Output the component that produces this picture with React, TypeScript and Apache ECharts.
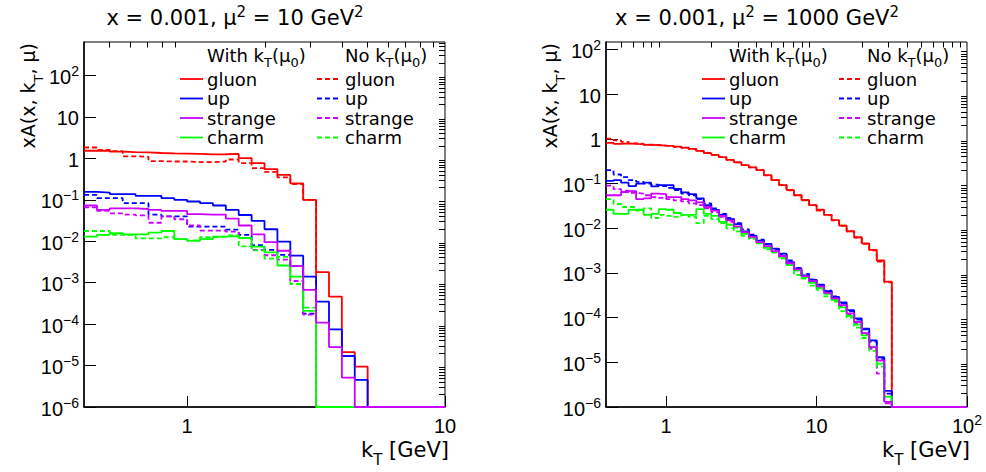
import { useEffect, useRef } from 'react';
import * as echarts from 'echarts';

const FONT = '"Liberation Sans", Arial, Helvetica, sans-serif';
const FONT_W = '"DejaVu Sans", "Liberation Sans", sans-serif';

// ---- histogram binning: log-uniform, 0.05 per bin in log10(kT), first edge 10^-0.4 ----
const FIRST_EDGE_LOG10 = -0.4;
const BIN_LOG10 = 0.05;

// ---- axis ranges ----
const X_MIN = 0.398;
const X_MAX_LEFT = 10;
const X_MAX_RIGHT = 100;
const Y_MIN = 1e-6;
const Y_MAX_LEFT = 644;
const Y_MAX_RIGHT = 148;

// ---- tick values ----
const xMajorLeft = [1, 10];
const xMajorRight = [1, 10, 100];
const xMinorLeft = [0.5, 0.6, 0.7, 0.8, 0.9, 2, 3, 4, 5, 6, 7, 8, 9];
const xMinorRight = [0.5, 0.6, 0.7, 0.8, 0.9, 2, 3, 4, 5, 6, 7, 8, 9, 20, 30, 40, 50, 60, 70, 80, 90];
const yMajor = [1e-6, 1e-5, 1e-4, 1e-3, 1e-2, 1e-1, 1, 10, 100];
const yMinorDigits = [2, 3, 4, 5, 6, 7, 8, 9];

// ---- texts ----
const titleLeft = '{t|x = 0.001, μ}{p|2}{t| = 10 GeV}{p|2}';
const titleRight = '{t|x = 0.001, μ}{p|2}{t| = 1000 GeV}{p|2}';
const yTitle = '{n|xA(x, k}{b|T}{n|, μ)}';
const xTitle = '{n|k}{b|T}{n| [GeV]}';
const legendHeadWith = '{n|With k}{b|T}{n|(μ}{b|0}{n|)}';
const legendHeadNo = '{n|No k}{b|T}{n|(μ}{b|0}{n|)}';
const legendNames = ['gluon', 'up', 'strange', 'charm'];
const colors = ['#ff0000', '#0000ff', '#cc00ff', '#00ff00'];
// drawing order (z) of solid lines: strange drawn last, as in the reference
const solidZ = [3, 4, 6, 5];

// ---- left panel: x = 0.001, mu^2 = 10 GeV^2 (28 bins, 0.398 .. 10) ----
const gluonWithL = [1.53, 1.53, 1.45, 1.42, 1.40, 1.35, 1.32, 1.30, 1.28, 1.25, 1.26, 1.28, 1.02, 0.77, 0.55, 0.40, 0.25, 0.10, 1.8e-3, 4.6e-4, 2.1e-5, 9.4e-6, 0, 0, 0, 0, 0, 0];
const gluonNoL = [1.83, 1.61, 1.50, 1.12, 1.10, 0.86, 0.84, 0.84, 0.81, 0.81, 0.84, 0.94, 0.77, 0.58, 0.47, 0.35, 0.24, 0.10, 0, 0, 0, 0, 0, 0, 0, 0, 0, 0];
const upWithL = [0.155, 0.150, 0.137, 0.137, 0.125, 0.125, 0.110, 0.100, 0.091, 0.083, 0.073, 0.057, 0.043, 0.031, 0.0195, 0.0098, 0.0045, 0.0014, 3.5e-4, 7.5e-5, 1.7e-5, 4.5e-6, 0, 0, 0, 0, 0, 0];
const upNoL = [0.131, 0.110, 0.110, 0.083, 0.083, 0.044, 0.040, 0.040, 0.0226, 0.0226, 0.0226, 0.019, 0.0143, 0.0081, 0.0062, 0.0047, 0.0025, 1.8e-4, 0, 0, 0, 0, 0, 0, 0, 0, 0, 0];
const strangeWithL = [0.073, 0.057, 0.062, 0.062, 0.060, 0.057, 0.054, 0.054, 0.045, 0.044, 0.044, 0.035, 0.024, 0.0147, 0.0095, 0.0059, 0.0025, 6.7e-4, 1.09e-4, 2.8e-5, 5.1e-6, 0, 0, 0, 0, 0, 0, 0];
const strangeNoL = [0.066, 0.054, 0.047, 0.044, 0.042, 0.028, 0.040, 0.034, 0.024, 0.018, 0.018, 0.017, 0.012, 0.0062, 0.0046, 0.0036, 0.0011, 1.7e-4, 0, 0, 0, 0, 0, 0, 0, 0, 0, 0];
const charmWithL = [0.013, 0.0143, 0.0158, 0.0147, 0.0147, 0.0162, 0.0177, 0.0112, 0.0102, 0.0112, 0.0129, 0.0133, 0.012, 0.0074, 0.0054, 0.0026, 0.0014, 2.1e-4, 0, 0, 0, 0, 0, 0, 0, 0, 0, 0];
const charmNoL = [0.0177, 0.0177, 0.0143, 0.0143, 0.0118, 0.0118, 0.0125, 0.0112, 0.0105, 0.0125, 0.0129, 0.0138, 0.0075, 0.006, 0.0038, 0.0042, 9.3e-4, 2.5e-4, 0, 0, 0, 0, 0, 0, 0, 0, 0, 0];

// ---- right panel: x = 0.001, mu^2 = 1000 GeV^2 (48 bins, 0.398 .. 100) ----
const gluonWithR = [0.82, 0.78, 0.80, 0.78, 0.77, 0.74, 0.73, 0.71, 0.70, 0.67, 0.64, 0.60, 0.54, 0.48, 0.44, 0.39, 0.34, 0.30, 0.26, 0.23, 0.20, 0.155, 0.12, 0.093, 0.072, 0.055, 0.043, 0.033, 0.026, 0.020, 0.0152, 0.0115, 0.0086, 0.0063, 0.0046, 0.0033, 0.0019, 6.4e-4, 0, 0, 0, 0, 0, 0, 0, 0, 0, 0];
const gluonNoR = [1.02, 0.93, 0.86, 0.80, 0.78, 0.75, 0.73, 0.71, 0.69, 0.66, 0.63, 0.59, 0.54, 0.49, 0.44, 0.39, 0.34, 0.30, 0.26, 0.23, 0.20, 0.153, 0.121, 0.094, 0.071, 0.055, 0.042, 0.033, 0.025, 0.020, 0.0150, 0.0114, 0.0085, 0.0062, 0.0045, 0.0032, 0.0018, 6.2e-4, 0, 0, 0, 0, 0, 0, 0, 0, 0, 0];
const upWithR = [0.115, 0.12, 0.105, 0.088, 0.10, 0.105, 0.087, 0.093, 0.092, 0.076, 0.064, 0.058, 0.047, 0.033, 0.0257, 0.020, 0.016, 0.0124, 0.0085, 0.0068, 0.0053, 0.0045, 0.0035, 0.0027, 0.00175, 0.00125, 8.8e-4, 7.0e-4, 5.5e-4, 3.9e-4, 2.9e-4, 2.2e-4, 1.47e-4, 9.6e-5, 5.7e-5, 3.1e-5, 1.3e-5, 2.3e-6, 0, 0, 0, 0, 0, 0, 0, 0, 0, 0];
const upNoR = [0.20, 0.16, 0.14, 0.12, 0.11, 0.10, 0.095, 0.088, 0.08, 0.072, 0.06, 0.055, 0.045, 0.036, 0.028, 0.021, 0.017, 0.013, 0.0095, 0.0072, 0.0056, 0.0044, 0.0034, 0.0026, 0.0019, 0.0013, 9.5e-4, 7.2e-4, 5.3e-4, 4.0e-4, 3.0e-4, 2.1e-4, 1.4e-4, 9.0e-5, 5.5e-5, 2.9e-5, 1.2e-5, 2.0e-6, 0, 0, 0, 0, 0, 0, 0, 0, 0, 0];
const strangeWithR = [0.055, 0.055, 0.065, 0.068, 0.045, 0.047, 0.06, 0.058, 0.05, 0.05, 0.045, 0.042, 0.038, 0.03, 0.025, 0.019, 0.015, 0.011, 0.0082, 0.0064, 0.0049, 0.0040, 0.0031, 0.0024, 0.00165, 0.0012, 8.5e-4, 6.6e-4, 5.0e-4, 3.6e-4, 2.7e-4, 1.9e-4, 1.25e-4, 8.0e-5, 4.5e-5, 2.2e-5, 1.1e-5, 1.3e-6, 0, 0, 0, 0, 0, 0, 0, 0, 0, 0];
const strangeNoR = [0.09, 0.075, 0.07, 0.062, 0.06, 0.055, 0.05, 0.048, 0.045, 0.042, 0.04, 0.036, 0.033, 0.028, 0.023, 0.018, 0.014, 0.0105, 0.008, 0.006, 0.0047, 0.0037, 0.0029, 0.0022, 0.0016, 0.00115, 8.2e-4, 6.3e-4, 4.8e-4, 3.5e-4, 2.6e-4, 1.8e-4, 1.2e-4, 7.5e-5, 4.2e-5, 2.0e-5, 5.6e-6, 1.2e-6, 0, 0, 0, 0, 0, 0, 0, 0, 0, 0];
const charmWithR = [0.026, 0.021, 0.021, 0.026, 0.026, 0.020, 0.021, 0.027, 0.026, 0.022, 0.020, 0.020, 0.027, 0.021, 0.019, 0.014, 0.012, 0.0105, 0.0075, 0.0062, 0.0048, 0.0037, 0.0030, 0.0023, 0.0015, 0.00115, 8.0e-4, 6.0e-4, 4.6e-4, 3.4e-4, 2.5e-4, 1.7e-4, 1.1e-4, 7.0e-5, 4.0e-5, 2.2e-5, 9.4e-6, 1.7e-6, 0, 0, 0, 0, 0, 0, 0, 0, 0, 0];
const charmNoR = [0.045, 0.035, 0.03, 0.03, 0.025, 0.028, 0.017, 0.02, 0.019, 0.018, 0.02, 0.018, 0.013, 0.019, 0.016, 0.013, 0.010, 0.0085, 0.0068, 0.0058, 0.0046, 0.0034, 0.0029, 0.0021, 0.0015, 9.0e-4, 7.5e-4, 5.2e-4, 4.2e-4, 3.0e-4, 2.3e-4, 1.4e-4, 1.0e-4, 6.0e-5, 3.5e-5, 1.8e-5, 8.0e-6, 1.3e-6, 0, 0, 0, 0, 0, 0, 0, 0, 0, 0];

function binEdges(nBins: number): number[] {
  const e: number[] = [];
  for (let i = 0; i <= nBins; i++) e.push(Math.pow(10, FIRST_EDGE_LOG10 + BIN_LOG10 * i));
  return e;
}

function stepData(vals: number[]): number[][] {
  const edges = binEdges(vals.length);
  const pts = vals.map((v, i) => [edges[i], Math.max(v, Y_MIN)]);
  pts.push([edges[vals.length], Math.max(vals[vals.length - 1], Y_MIN)]);
  return pts;
}

function yMinor(maxV: number): number[] {
  const out: number[] = [];
  for (let e = -6; e <= 2; e++) {
    for (const d of yMinorDigits) {
      const v = Number((d * Math.pow(10, e)).toPrecision(3));
      if (v <= maxV) out.push(v);
    }
  }
  return out;
}

function expLabel(v: number): string {
  const e = Math.round(Math.log10(v));
  if (e === 0) return '{b|1}';
  if (e === 1) return '{b|10}';
  return `{b|10}{s|${e < 0 ? '−' + -e : e}}`;
}

const labelRich = {
  b: { fontSize: 20, lineHeight: 23, verticalAlign: 'bottom', color: '#000', fontFamily: FONT },
  s: { fontSize: 14, lineHeight: 14, verticalAlign: 'top', color: '#000', fontFamily: FONT },
};

function xAxes(grid: number, max: number, majors: number[], minors: number[]) {
  return [
    {
      type: 'log', logBase: 10, gridIndex: grid, min: X_MIN, max,
      axisLine: { show: true, lineStyle: { color: '#000', width: 1.5 } },
      axisTick: { show: true, inside: true, length: 11, customValues: majors, lineStyle: { color: '#000', width: 1 } },
      axisLabel: { show: true, customValues: majors, formatter: expLabel, margin: 6, rich: labelRich },
      splitLine: { show: false },
    },
    {
      type: 'log', logBase: 10, gridIndex: grid, min: X_MIN, max,
      axisLine: { show: false },
      axisTick: { show: true, inside: true, length: 5.5, customValues: minors, lineStyle: { color: '#000', width: 1 } },
      axisLabel: { show: false },
      splitLine: { show: false },
    },
  ];
}

function yAxes(grid: number, max: number) {
  const majors = yMajor.filter((v) => v <= max);
  return [
    {
      type: 'log', logBase: 10, gridIndex: grid, min: Y_MIN, max,
      axisLine: { show: true, lineStyle: { color: '#000', width: 1.5 } },
      axisTick: { show: true, inside: true, length: 12, customValues: majors, lineStyle: { color: '#000', width: 1 } },
      axisLabel: { show: true, customValues: majors, formatter: expLabel, margin: 5, rich: labelRich },
      splitLine: { show: false },
    },
    {
      type: 'log', logBase: 10, gridIndex: grid, min: Y_MIN, max,
      axisLine: { show: false },
      axisTick: { show: true, inside: true, length: 6, customValues: yMinor(max), lineStyle: { color: '#000', width: 1 } },
      axisLabel: { show: false },
      splitLine: { show: false },
    },
  ];
}

function histSeries(name: string, vals: number[], color: string, dashed: boolean, axisIdx: number, z: number) {
  return {
    type: 'line', name, step: 'end', data: stepData(vals), xAxisIndex: axisIdx, yAxisIndex: axisIdx,
    showSymbol: false, symbol: 'none', silent: true, clip: true, z,
    lineStyle: { color, width: 1.8, type: dashed ? [5, 3] : 'solid' },
  };
}

// rich styles: n = normal, b = subscript (pushed to the bottom of a taller line), t/p = title + superscript
function richSet(size: number, subSize: number, lh: number) {
  return {
    n: { fontSize: size, lineHeight: lh, verticalAlign: 'top', fill: '#000', fontFamily: FONT_W },
    b: { fontSize: subSize, lineHeight: lh, verticalAlign: 'bottom', fill: '#000', fontFamily: FONT_W },
    t: { fontSize: 21, lineHeight: 24, verticalAlign: 'bottom', fill: '#000', fontFamily: FONT_W },
    p: { fontSize: 15, lineHeight: 15, verticalAlign: 'top', fill: '#000', fontFamily: FONT_W },
  };
}

function txt(text: string, x: number, y: number, align: string, size: number, lhf = 1.35, extra: any = {}) {
  return {
    type: 'text', x, y, z: 100, ...extra,
    style: {
      text, align, textAlign: align, verticalAlign: 'middle', textVerticalAlign: 'middle',
      fill: '#000', fontFamily: FONT_W, fontSize: size,
      rich: richSet(size, Math.round(size * 0.7), Math.round(size * lhf)),
    },
  };
}

function legendGraphics(dx: number) {
  const els: any[] = [];
  const rowY = [79, 98.5, 118, 137.5];
  const LS = 18;
  const hl = 1.28;
  const hoff = (Math.round(LS * hl) - LS) / 2;
  els.push(txt(legendHeadWith, 207 + dx, 55 + hoff, 'left', LS, hl));
  els.push(txt(legendHeadNo, 345 + dx, 55 + hoff, 'left', LS, hl));
  legendNames.forEach((nm, i) => {
    els.push({ type: 'line', z: 100, shape: { x1: 180 + dx, y1: rowY[i], x2: 203 + dx, y2: rowY[i] }, style: { stroke: colors[i], lineWidth: 1.8 } });
    els.push({ type: 'line', z: 100, shape: { x1: 317 + dx, y1: rowY[i], x2: 341 + dx, y2: rowY[i] }, style: { stroke: colors[i], lineWidth: 1.8, lineDash: [5, 3] } });
    els.push(txt('{n|' + nm + '}', 207 + dx, rowY[i], 'left', LS, 1));
    els.push(txt('{n|' + nm + '}', 345 + dx, rowY[i], 'left', LS, 1));
  });
  return els;
}

export default function App() {
  const ref = useRef<HTMLDivElement>(null);
  useEffect(() => {
    if (!ref.current) return;
    const chart = echarts.init(ref.current, undefined, { renderer: 'svg' });
    const setsL = [[gluonWithL, gluonNoL], [upWithL, upNoL], [strangeWithL, strangeNoL], [charmWithL, charmNoL]];
    const setsR = [[gluonWithR, gluonNoR], [upWithR, upNoR], [strangeWithR, strangeNoR], [charmWithR, charmNoR]];
    const series: any[] = [];
    setsL.forEach((s, i) => {
      series.push(histSeries(legendNames[i] + ' with (10)', s[0], colors[i], false, 0, solidZ[i]));
      series.push(histSeries(legendNames[i] + ' no (10)', s[1], colors[i], true, 0, 2));
    });
    setsR.forEach((s, i) => {
      series.push(histSeries(legendNames[i] + ' with (1000)', s[0], colors[i], false, 2, solidZ[i]));
      series.push(histSeries(legendNames[i] + ' no (1000)', s[1], colors[i], true, 2, 2));
    });
    const yOff = (Math.round(19 * 1.35) - 19) / 2;
    const xOff = (Math.round(21 * 1.35) - 21) / 2;
    const graphic: any[] = [
      txt(titleLeft, 235, 16, 'center', 20),
      txt(titleRight, 757, 16, 'center', 20),
      txt(yTitle, 28 + yOff, 43, 'right', 19, 1.35, { rotation: Math.PI / 2 }),
      txt(yTitle, 28 + 522 + yOff, 43, 'right', 19, 1.35, { rotation: Math.PI / 2 }),
      txt(xTitle, 449, 450 + xOff, 'right', 21),
      txt(xTitle, 970, 450 + xOff, 'right', 21),
      ...legendGraphics(0),
      ...legendGraphics(522),
    ];
    chart.setOption({
      animation: false,
      backgroundColor: '#fff',
      textStyle: { fontFamily: FONT },
      grid: [
        { left: 84, top: 42, width: 361, height: 365, show: true, borderColor: '#000', borderWidth: 1, backgroundColor: 'transparent' },
        { left: 606, top: 42, width: 361, height: 365, show: true, borderColor: '#000', borderWidth: 1, backgroundColor: 'transparent' },
      ],
      xAxis: [...xAxes(0, X_MAX_LEFT, xMajorLeft, xMinorLeft), ...xAxes(1, X_MAX_RIGHT, xMajorRight, xMinorRight)],
      yAxis: [...yAxes(0, Y_MAX_LEFT), ...yAxes(1, Y_MAX_RIGHT)],
      series,
      graphic,
    });
    return () => chart.dispose();
  }, []);
  return <div ref={ref} style={{ position: 'absolute', left: 0, top: 0, width: 986, height: 472 }} />;
}
